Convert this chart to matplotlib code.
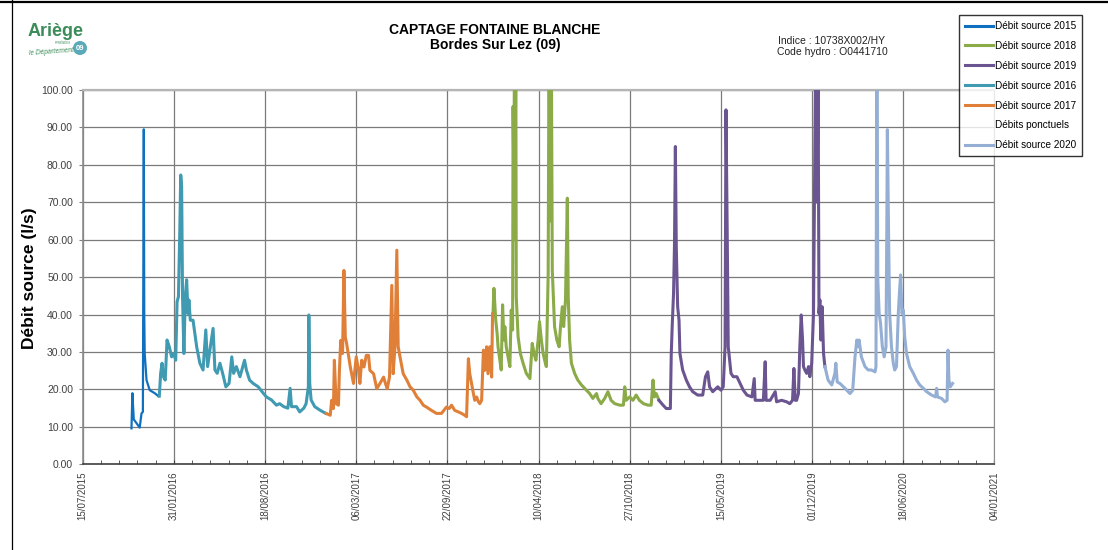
import matplotlib
matplotlib.use('Agg')
import numpy as np
import pandas as pd
import matplotlib.pyplot as plt
from matplotlib.lines import Line2D
from matplotlib.patches import Ellipse

plt.rcParams['font.family'] = ['Liberation Sans', 'DejaVu Sans']

# Dates stored as Excel serial numbers (days since 30/12/1899), debits in l/s
dates_2015 = [42307, 42309, 42312, 42318, 42325, 42329, 42332, 42334, 42335, 42336, 42340, 42347, 42358, 42366]
debit_2015 = [9.6, 19.0, 12.0, 11.0, 9.8, 13.6, 14.0, 89.5, 40.0, 29.6, 22.5, 19.8, 19.0, 18.2]

dates_2016 = [42368, 42371, 42374, 42377, 42381, 42385, 42390, 42395, 42400, 42404, 42407, 42410, 42413,
              42415, 42417, 42419, 42422, 42425, 42428, 42431, 42433, 42436, 42442, 42450, 42457, 42464,
              42470, 42474, 42480, 42486, 42490, 42495, 42501, 42507, 42514, 42521, 42527, 42531, 42537,
              42545, 42555, 42559, 42566, 42574, 42585, 42596, 42603, 42614, 42625, 42632, 42641, 42650,
              42655, 42658, 42669, 42676, 42685, 42690, 42695, 42696, 42698, 42701, 42709, 42720, 42733]
debit_2016 = [18.2, 24.3, 27.0, 23.4, 22.5, 33.2, 31.4, 28.7, 29.6, 27.8, 43.4, 44.8, 62.6,
              77.3, 74.3, 44.8, 29.6, 44.8, 49.3, 40.3, 43.9, 38.5, 38.5, 31.4, 27.0, 25.2,
              35.9, 26.1, 31.4, 36.3, 25.2, 24.3, 27.0, 24.3, 20.7, 21.6, 28.7, 24.3, 26.1,
              23.4, 27.8, 25.2, 22.5, 21.6, 20.7, 19.0, 18.0, 17.2, 15.8, 16.2, 15.4, 15.0,
              20.3, 15.4, 15.4, 14.0, 15.0, 16.2, 20.7, 39.9, 21.6, 17.2, 15.4, 14.5, 13.6]

dates_2017 = [42734, 42743, 42746, 42750, 42752, 42756, 42761, 42763, 42766, 42770, 42773, 42776, 42779,
              42787, 42794, 42800, 42805, 42808, 42812, 42817, 42822, 42827, 42830, 42838, 42845, 42852,
              42860, 42864, 42868, 42873, 42878, 42881, 42885, 42889, 42892, 42896, 42903, 42911, 42918,
              42925, 42933, 42940, 42947, 42954, 42965, 42976, 42987, 42998, 43004, 43009, 43016, 43024,
              43031, 43038, 43042, 43046, 43049, 43053, 43057, 43060, 43064, 43068, 43071, 43075, 43079,
              43082, 43086, 43089, 43093, 43097, 43099]
debit_2017 = [13.6, 13.1, 17.1, 14.9, 27.8, 16.2, 15.8, 24.7, 33.1, 29.6, 51.8, 34.0, 32.2,
              26.0, 21.6, 28.7, 25.1, 21.6, 27.8, 26.0, 29.1, 29.1, 25.1, 24.2, 20.2, 21.6,
              23.3, 21.6, 20.2, 23.3, 47.8, 24.2, 31.4, 57.2, 31.4, 28.7, 24.2, 22.5, 20.7,
              19.8, 18.0, 17.1, 15.8, 15.3, 14.4, 13.6, 13.6, 15.3, 14.9, 15.8, 14.4, 14.0,
              13.6, 13.1, 12.7, 28.2, 24.2, 21.6, 18.9, 17.1, 18.0, 16.7, 16.2, 17.1, 30.5,
              25.1, 31.4, 24.2, 31.4, 23.3, 40.2]

dates_2018 = [43100, 43102, 43106, 43109, 43111, 43115, 43118, 43121, 43124, 43126, 43129, 43133, 43137,
              43140, 43143, 43144, 43146, 43147, 43148, 43150, 43151, 43155, 43160, 43166, 43173, 43181,
              43186, 43190, 43194, 43199, 43202, 43206, 43210, 43214, 43217, 43221, 43223, 43225, 43228,
              43230, 43235, 43240, 43245, 43248, 43252, 43255, 43259, 43263, 43265, 43268, 43272, 43279,
              43286, 43294, 43301, 43312, 43319, 43327, 43330, 43337, 43345, 43352, 43359, 43367, 43378,
              43386, 43389, 43392, 43400, 43407, 43414, 43421, 43430, 43440, 43447, 43451, 43454, 43458,
              43464]
debit_2018 = [40.3, 47.0, 38.5, 35.0, 31.4, 27.8, 25.2, 42.6, 33.2, 36.8, 31.4, 28.7, 26.1,
              41.2, 35.9, 95.6, 72.0, 115.0, 60.0, 112.0, 44.8, 34.1, 29.6, 27.0, 24.3, 22.9,
              32.3, 29.6, 27.8, 33.2, 38.1, 33.2, 29.6, 27.4, 26.1, 51.0, 118.0, 65.0, 110.0,
              51.9, 36.8, 33.2, 31.4, 36.8, 42.1, 36.8, 43.9, 71.1, 44.8, 33.2, 27.0, 24.3,
              22.5, 21.2, 20.3, 18.9, 17.6, 18.9, 17.6, 16.2, 17.6, 19.4, 17.1, 16.2, 15.8,
              15.8, 20.7, 17.1, 18.0, 17.1, 18.5, 17.1, 16.2, 15.8, 15.8, 22.5, 18.0, 18.9,
              17.1]

dates_2019 = [43464, 43473, 43480, 43489, 43491, 43493, 43496, 43498, 43500, 43502, 43505, 43508, 43510,
              43516, 43524, 43531, 43538, 43549, 43560, 43566, 43571, 43575, 43582, 43593, 43600, 43605,
              43609, 43611, 43614, 43616, 43622, 43627, 43635, 43642, 43649, 43657, 43668, 43673, 43675,
              43686, 43693, 43697, 43699, 43708, 43719, 43722, 43733, 43744, 43751, 43757, 43760, 43763,
              43766, 43770, 43773, 43776, 43779, 43781, 43784, 43788, 43792, 43795, 43799, 43803, 43806,
              43808, 43811, 43813, 43815, 43817, 43819, 43822, 43825, 43828]
debit_2019 = [17.1, 15.8, 14.9, 14.9, 29.6, 36.8, 45.7, 58.2, 84.9, 58.2, 42.1, 38.5, 29.6,
              25.2, 22.5, 20.7, 19.4, 18.5, 18.5, 23.4, 24.7, 20.7, 19.4, 20.7, 19.8, 20.7,
              31.4, 94.7, 58.2, 31.4, 24.3, 23.4, 23.4, 21.6, 19.8, 18.5, 18.0, 22.9, 17.1,
              17.1, 17.1, 27.4, 17.1, 17.1, 19.4, 16.7, 17.1, 16.7, 16.2, 17.1, 25.6, 17.1,
              17.1, 18.9, 31.4, 39.9, 33.2, 26.1, 25.2, 24.3, 26.1, 23.4, 27.0, 40.3, 85.0,
              112.0, 70.0, 108.0, 40.3, 43.9, 33.2, 42.1, 29.6, 26.1]

dates_2020 = [43828, 43835, 43843, 43850, 43852, 43855, 43861, 43872, 43883, 43889, 43894, 43898, 43901,
              43903, 43908, 43916, 43923, 43930, 43938, 43940, 43942, 43944, 43947, 43950, 43954, 43958,
              43962, 43964, 43965, 43968, 43970, 43974, 43978, 43981, 43985, 43989, 43991, 43994, 43997,
              44000, 44003, 44007, 44014, 44022, 44029, 44036, 44044, 44051, 44062, 44071, 44073, 44075,
              44084, 44091, 44096, 44098, 44100, 44103, 44108]
debit_2020 = [26.1, 22.5, 21.2, 24.3, 27.0, 22.0, 21.6, 20.3, 18.9, 19.8, 28.7, 33.2, 31.4,
              33.2, 28.7, 26.1, 25.2, 25.2, 24.7, 26.1, 115.0, 49.3, 40.3, 37.7, 31.4, 28.7,
              31.4, 67.1, 89.4, 58.2, 40.3, 31.4, 27.0, 25.2, 26.1, 40.3, 44.8, 50.6, 40.3,
              41.2, 34.1, 29.6, 26.1, 24.3, 22.5, 21.2, 20.3, 19.4, 18.5, 18.0, 20.3, 18.0,
              17.6, 16.7, 17.1, 30.5, 22.5, 20.7, 21.6]

# axis bounds (Excel serials) : 15/07/2015 -> 04/01/2021, major unit 200 days
x_min, x_max, x_major, x_minor = 42200, 44200, 200, 40


def excel_to_date(serials):
    return pd.to_datetime(np.asarray(serials), unit='D', origin='1899-12-30')


W, H = 1108, 550
fig = plt.figure(figsize=(W / 100, H / 100), dpi=100)


def fx(x):
    return x / W


def fy(y):
    return 1 - y / H


ax = fig.add_axes([fx(82.7), fy(464.3), fx(994.5 - 82.7), (464.3 - 90) / H])

series = [
    ('Débit source 2015', dates_2015, debit_2015, '#1070C0', 1.6),
    ('Débit source 2018', dates_2018, debit_2018, '#8BAA48', 2.2),
    ('Débit source 2019', dates_2019, debit_2019, '#6B5591', 2.2),
    ('Débit source 2016', dates_2016, debit_2016, '#409AB1', 2.2),
    ('Débit source 2017', dates_2017, debit_2017, '#E08038', 2.2),
    ('Débits ponctuels', [], [], 'none', 0),
    ('Débit source 2020', dates_2020, debit_2020, '#94AED4', 2.2),
]

for label, d, v, color, lw in series:
    if len(d) == 0:
        ax.plot([], [], linestyle='none', label=label)
        continue
    ax.plot(excel_to_date(d), v, color=color, lw=lw, label=label,
            solid_joinstyle='round', zorder=3)

major = excel_to_date(range(x_min, x_max + 1, x_major))
minor = excel_to_date(range(x_min, x_max + 1, x_minor))
ax.set_xlim(major[0], major[-1])
ax.set_xticks(major)
ax.set_xticklabels([d.strftime('%d/%m/%Y') for d in major], rotation=90,
                   fontsize=7, color='#404040')
ax.set_xticks(minor, minor=True)
ax.tick_params(axis='x', which='both', direction='in', length=3,
               color='#404040', pad=5)

ax.set_ylim(0, 100)
ax.set_yticks(np.arange(0, 101, 10))
ax.set_yticklabels([f'{t:.2f}' for t in np.arange(0, 101, 10)],
                   fontsize=7.5, color='#404040')
ax.tick_params(axis='y', direction='out', length=3, color='#808080', pad=4)

ax.grid(True, which='major', color='#7a7a7a', lw=0.9)
ax.set_axisbelow(True)
ax.spines['bottom'].set_color('#404040')
ax.spines['bottom'].set_linewidth(1.2)
ax.spines['left'].set_color('#8c8c8c')
ax.spines['left'].set_linewidth(1.2)
ax.spines['top'].set_color('#b5b5b5')
ax.spines['top'].set_linewidth(1.6)
ax.spines['right'].set_color('#8c8c8c')

fig.text(fx(30), fy(278), 'Débit source (l/s)', rotation=90, ha='center',
         va='center', fontsize=12.5, fontweight='bold')

# titles
fig.text(fx(495), fy(29.5), 'CAPTAGE FONTAINE BLANCHE', ha='center', va='center',
         fontsize=10, fontweight='bold')
fig.text(fx(495), fy(45.5), 'Bordes Sur Lez (09)', ha='center', va='center',
         fontsize=10, fontweight='bold')
fig.text(fx(832), fy(41.5), 'Indice : 10738X002/HY', ha='center', va='center',
         fontsize=7.5, color='#222222')
fig.text(fx(832), fy(52), 'Code hydro : O0441710', ha='center', va='center',
         fontsize=7.5, color='#222222')

# department logo
green = '#3C8C5A'
fig.text(fx(28), fy(32), 'Ariège', ha='left', va='center', fontsize=13,
         fontweight='bold', color=green)
fig.text(fx(55), fy(42.5), 'PYRÉNÉES', ha='left', va='center', fontsize=2.2,
         color=green)
fig.text(fx(29), fy(52), 'le Département', ha='left', va='center', fontsize=4.8,
         style='italic', color=green, rotation=4)
fig.add_artist(Ellipse((fx(80), fy(48)), 14 / W, 14 / H,
                       transform=fig.transFigure, facecolor='#5AAAB9',
                       edgecolor='none'))
fig.text(fx(80), fy(48), '09', ha='center', va='center', fontsize=5.5,
         fontweight='bold', color='white')

leg = fig.legend(loc='upper left', bbox_to_anchor=(fx(959), fy(15)),
                 bbox_transform=fig.transFigure, fontsize=7.2, frameon=True,
                 fancybox=False, edgecolor='black', handlelength=2.8,
                 handletextpad=0.2, labelspacing=0.99, borderpad=0.6,
                 borderaxespad=0)
leg.get_frame().set_linewidth(1.0)
for h in leg.get_lines():
    h.set_linewidth(2.2)

# page frame lines
fig.add_artist(Line2D([0, 1], [fy(1.5), fy(1.5)], transform=fig.transFigure,
                      color='black', lw=1.6))
fig.add_artist(Line2D([fx(12), fx(12)], [0, 1], transform=fig.transFigure,
                      color='black', lw=0.9))

fig.savefig('out.png', dpi=100)
